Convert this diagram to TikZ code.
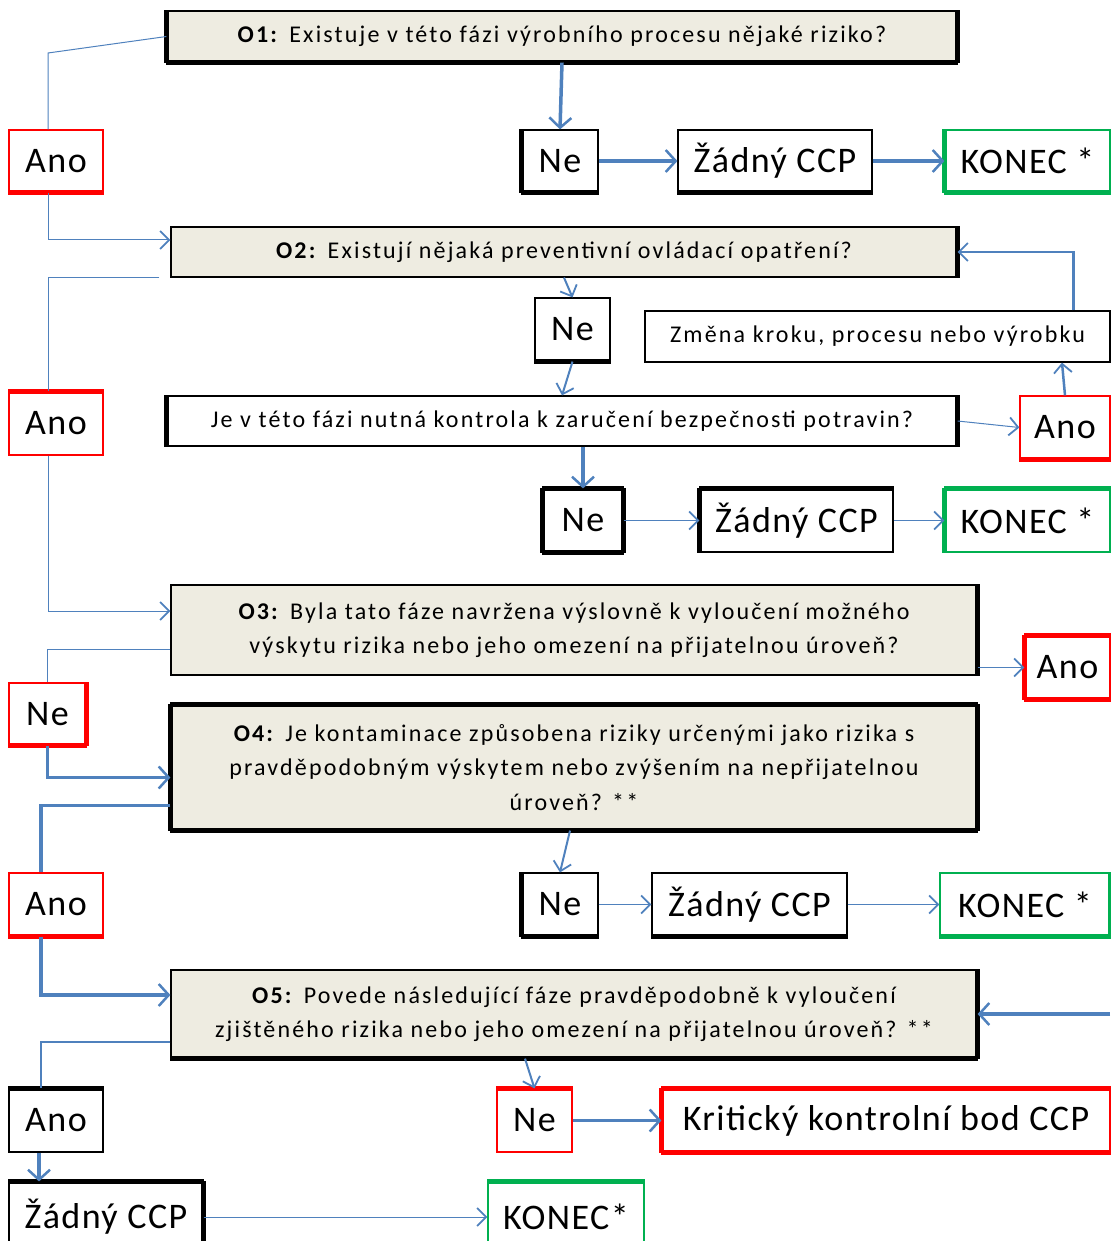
\documentclass[tikz,border=0pt]{standalone}
\usepackage{fontspec}
\setmainfont{Carlito}
\usetikzlibrary{arrows.meta}

\definecolor{flowblue}{HTML}{4F81BD}
\definecolor{qfill}{HTML}{EEECE1}
\definecolor{ccpred}{HTML}{FF0000}
\definecolor{endgreen}{HTML}{00B050}

\newfontfamily\boxfont[LetterSpace=4]{Carlito}
\newfontfamily\questfont[LetterSpace=9]{Carlito}
\newcommand{\bigsize}{\boxfont\fontsize{36}{40}\selectfont}
\newcommand{\qsize}{\questfont\fontsize{24}{34.5}\selectfont}

\begin{document}
\begin{tikzpicture}[x=1pt, y=-1pt,
    box/.style={draw, line width=1.2pt, inner sep=0pt, font=\bigsize},
    qbox/.style={box, fill=qfill, font=\qsize, align=center},
    redbox/.style={box, draw=ccpred},
    endbox/.style={box, draw=endgreen},
    wire/.style={draw=flowblue, line width=1pt},
    link/.style={wire, -{Straight Barb[length=9pt,width=18pt,line width=1.8pt]}},
    midlink/.style={link, line width=2pt},
    heavy/.style={wire, line width=3.5pt, -{Straight Barb[length=10pt,width=22pt,line width=2.5pt]}}]
  \useasboundingbox (0,0) rectangle (1110,1241);

  % questions
  \node (o1) at (562,36.5) [qbox, minimum width=790pt, minimum height=51pt] {\textbf{O1:} Existuje v této fázi výrobního procesu nějaké riziko?};
  \node (o2) at (564,252) [qbox, minimum width=786pt, minimum height=50pt] {\textbf{O2:} Existují nějaká preventivní ovládací opatření?};
  \node (q) at (562,421) [box, font=\qsize, minimum width=790pt, minimum height=50pt] {Je v této fázi nutná kontrola k zaručení bezpečnosti potravin?};
  \node (o3) at (574,630) [qbox, minimum width=806pt, minimum height=90pt] {\textbf{O3:} Byla tato fáze navržena výslovně k vyloučení možného\\výskytu rizika nebo jeho omezení na přijatelnou úroveň?};
  \node (o4) at (574,767.5) [qbox, minimum width=806pt, minimum height=125pt] {\textbf{O4:} Je kontaminace způsobena riziky určenými jako rizika s\\pravděpodobným výskytem nebo zvýšením na nepřijatelnou\\úroveň? **};
  \node (o5) at (574,1014) [qbox, minimum width=806pt, minimum height=88pt] {\textbf{O5:} Povede následující fáze pravděpodobně k vyloučení\\zjištěného rizika nebo jeho omezení na přijatelnou úroveň? **};
  \node (zmena) at (877.5,336.5) [box, font=\qsize, minimum width=465pt, minimum height=51pt] {Změna kroku, procesu nebo výrobku};

  % answers
  \node (ano1) at (56,161) [redbox, minimum width=94pt, minimum height=62pt] {Ano};
  \node (ne1) at (560,161) [box, minimum width=76pt, minimum height=62pt] {Ne};
  \node (zadny1) at (775,161) [box, minimum width=194pt, minimum height=62pt] {Žádný CCP};
  \node (konec1) at (1027.5,161) [endbox, minimum width=165pt, minimum height=62pt] {KONEC *};
  \node (ne2) at (572.5,329.5) [box, minimum width=75pt, minimum height=63pt] {Ne};
  \node (ano2) at (56,423.5) [redbox, minimum width=94pt, minimum height=63pt] {Ano};
  \node (anor) at (1065,427.5) [redbox, minimum width=90pt, minimum height=63pt] {Ano};
  \node (ne3) at (583,520.5) [box, minimum width=80pt, minimum height=63pt] {Ne};
  \node (zadny2) at (796.5,520.5) [box, minimum width=193pt, minimum height=63pt] {Žádný CCP};
  \node (konec2) at (1027.5,520.5) [endbox, minimum width=165pt, minimum height=63pt] {KONEC *};
  \node (ano3) at (1067.5,667.5) [redbox, minimum width=85pt, minimum height=63pt] {Ano};
  \node (ne4) at (47.5,714) [redbox, minimum width=77pt, minimum height=62pt] {Ne};
  \node (ano4) at (56,904.5) [redbox, minimum width=94pt, minimum height=63pt] {Ano};
  \node (ne5) at (560,904.5) [box, minimum width=76pt, minimum height=63pt] {Ne};
  \node (zadny3) at (749.5,904.5) [box, minimum width=195pt, minimum height=63pt] {Žádný CCP};
  \node (konec3) at (1025,904.5) [endbox, minimum width=170pt, minimum height=63pt] {KONEC *};
  \node (ano5) at (56,1120.5) [box, minimum width=94pt, minimum height=63pt] {Ano};
  \node (ne6) at (534.5,1120.5) [redbox, minimum width=75pt, minimum height=63pt] {Ne};
  \node (krit) at (886,1120.5) [redbox, minimum width=448pt, minimum height=63pt] {Kritický kontrolní bod CCP};
  \node (zadny4) at (106,1217) [box, minimum width=194pt, minimum height=70pt] {Žádný CCP};
  \node (konec4) at (566,1217) [endbox, minimum width=156pt, minimum height=70pt] {KONEC*};
  \coordinate (o5in) at (1110,1014);

  % heavy sides of the boxes
  \foreach \n/\a/\b in {o1/north west/south west, o1/north east/south east, o1/south west/south east,
      ne1/north west/south west, ne1/south west/south east, zadny1/south west/south east,
      o2/north east/south east, ne2/south west/south east, q/north west/south west, q/north east/south east,
      ne3/north west/south west, ne3/north east/south east, ne3/north west/north east, ne3/south west/south east,
      zadny2/north west/north east, zadny2/north west/south west, o3/north east/south east,
      o4/north west/north east, o4/north west/south west, o4/north east/south east, o4/south west/south east,
      ne5/north west/south west, ne5/south west/south east, zadny3/south west/south east,
      o5/north east/south east, o5/south west/south east, ano5/north west/north east,
      zadny4/north west/north east, zadny4/north east/south east}
    \draw[line width=4.5pt] (\n.\a) -- (\n.\b);
  \foreach \n/\a/\b in {ano1/south west/south east, anor/south west/south east, ano2/north west/north east,
      ano3/north west/north east, ano3/north west/south west, ano3/south west/south east,
      ne4/north east/south east, ne4/south west/south east, ano4/south west/south east,
      ne6/north west/north east, krit/north west/north east, krit/north west/south west, krit/south west/south east}
    \draw[ccpred, line width=4.5pt] (\n.\a) -- (\n.\b);
  \foreach \n/\a/\b in {konec1/north west/south west, konec1/south west/south east,
      konec2/north west/north east, konec2/north west/south west,
      konec3/north east/south east, konec3/south west/south east, konec4/north west/north east}
    \draw[endgreen, line width=4.5pt] (\n.\a) -- (\n.\b);

  % O1
  \draw[wire] (o1.west) -- (48,53) -- ([xshift=-8pt]ano1.north);
  \draw[link] ([xshift=-8pt]ano1.south) |- ([yshift=12pt]o2.west);
  \draw[heavy] (o1.south) -- (ne1.north);
  \draw[heavy] (ne1) -- (zadny1);
  \draw[heavy] (zadny1) -- (konec1);

  % O2
  \draw[wire] ([xshift=-11pt]o2.south west) -| ([xshift=-8pt]ano2.north);
  \draw[link] ([xshift=-8pt]ano2.south) |- ([yshift=19pt]o3.west);
  \draw[midlink] (o2.south) -- (ne2.north);
  \draw[midlink] (ne2.south) -- (q.north);
  \draw[heavy] (ne3.north |- q.south) -- (ne3.north);
  \draw[link] (ne3) -- (zadny2);
  \draw[link] (zadny2) -- (konec2);
  \draw[link] (q.east) -- (anor.west);
  \draw[midlink, line width=2.5pt] (anor.north) -- ([xshift=-3pt]anor.north |- zmena.south);
  \draw[link, line width=2.5pt] ([xshift=196pt]zmena.north) |- (o2.east);

  % O3
  \draw[link] (ano3.west -| o3.east) -- (ano3.west);
  \draw[wire] ([yshift=-19pt]o3.west) -| (ne4.north);
  \draw[heavy] (ne4.south) |- ([yshift=-10pt]o4.west);

  % O4
  \draw[wire, line width=3.5pt] ([yshift=-38pt]o4.west) -| ([xshift=-15pt]ano4.north);
  \draw[midlink] ([xshift=-4pt]o4.south) -- (ne5.north);
  \draw[link] (ne5) -- (zadny3);
  \draw[link] (zadny3) -- (konec3);

  % O5
  \draw[heavy] ([xshift=-15pt]ano4.south) |- ([yshift=19pt]o5.west);
  \draw[heavy] (o5in) -- (o5.east);
  \draw[wire, line width=2.5pt] ([yshift=-28pt]o5.west) -| ([xshift=-15pt]ano5.north);
  \draw[midlink] ([xshift=-49pt]o5.south) -- (ne6.north);
  \draw[heavy] (ne6) -- (krit);
  \draw[heavy] ([xshift=-17pt]ano5.south) -- ([xshift=-67pt]zadny4.north);
  \draw[link] (zadny4) -- (konec4);
\end{tikzpicture}
\end{document}
